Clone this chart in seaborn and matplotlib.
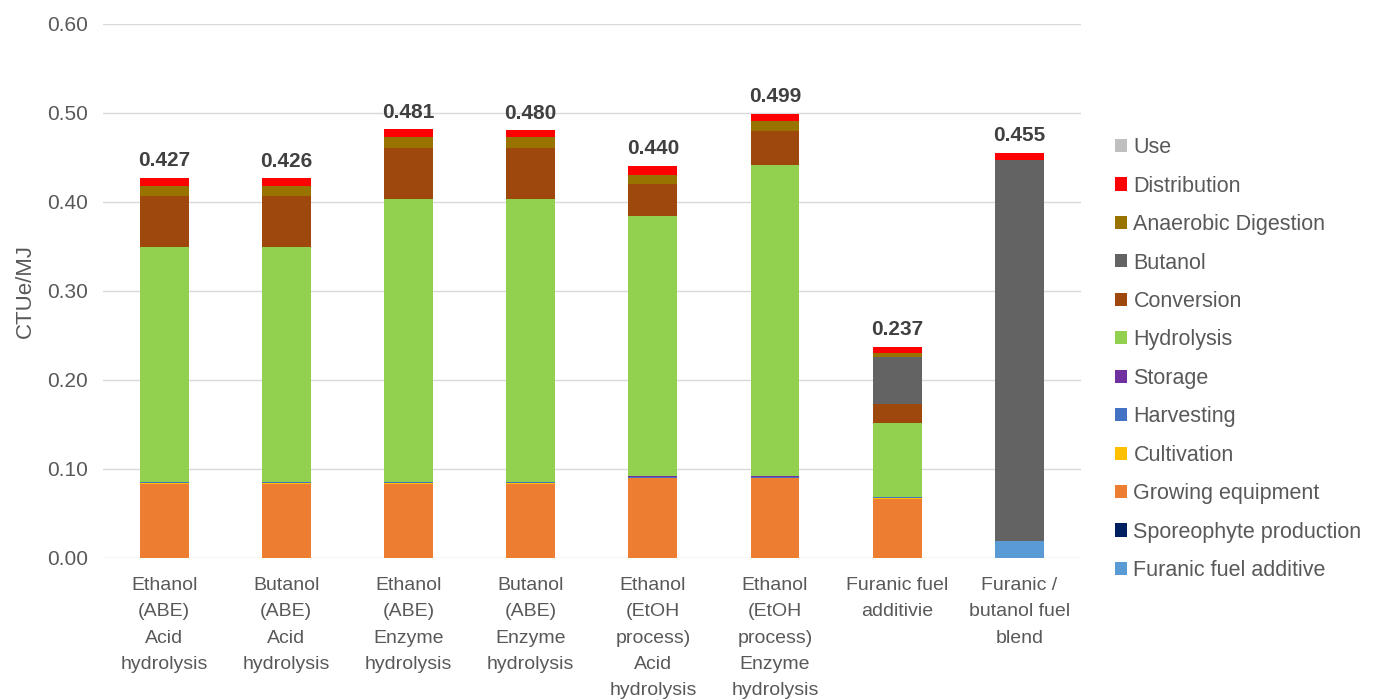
import numpy as np
import pandas as pd
import matplotlib
matplotlib.use("Agg")
import matplotlib.pyplot as plt
from matplotlib.patches import Patch
import seaborn as sns

# categories (x axis)
categories = [
    "Ethanol\n(ABE)\nAcid\nhydrolysis",
    "Butanol\n(ABE)\nAcid\nhydrolysis",
    "Ethanol\n(ABE)\nEnzyme\nhydrolysis",
    "Butanol\n(ABE)\nEnzyme\nhydrolysis",
    "Ethanol\n(EtOH\nprocess)\nAcid\nhydrolysis",
    "Ethanol\n(EtOH\nprocess)\nEnzyme\nhydrolysis",
    "Furanic fuel\nadditivie",
    "Furanic /\nbutanol fuel\nblend",
]

# stage contributions (CTUe/MJ), bottom of the stack first
furanic_fuel_additive = [0, 0, 0, 0, 0, 0, 0, 0.0185]
sporeophyte_production = [0.0003, 0.0003, 0.0003, 0.0003, 0.0003, 0.0003, 0.0002, 0]
growing_equipment = [0.083, 0.083, 0.083, 0.083, 0.089, 0.089, 0.0663, 0]
cultivation = [0.0005, 0.0005, 0.0005, 0.0005, 0.0008, 0.0008, 0.0005, 0]
harvesting = [0.0012, 0.0012, 0.0012, 0.0012, 0.0012, 0.0012, 0.001, 0]
storage = [0.0003, 0.0003, 0.0003, 0.0003, 0.0003, 0.0003, 0.0002, 0]
hydrolysis = [0.264, 0.264, 0.318, 0.318, 0.292, 0.350, 0.083, 0]
conversion = [0.057, 0.057, 0.057, 0.057, 0.036, 0.038, 0.0215, 0]
butanol = [0, 0, 0, 0, 0, 0, 0.053, 0.4285]
anaerobic_digestion = [0.011, 0.011, 0.012, 0.012, 0.011, 0.011, 0.0043, 0]
distribution = [0.010, 0.009, 0.009, 0.008, 0.0094, 0.0084, 0.007, 0.008]
use = [0, 0, 0, 0, 0, 0, 0, 0]

totals = [0.427, 0.426, 0.481, 0.480, 0.440, 0.499, 0.237, 0.455]

stages = [
    ("Furanic fuel additive", furanic_fuel_additive, "#5B9BD5"),
    ("Sporeophyte production", sporeophyte_production, "#002060"),
    ("Growing equipment", growing_equipment, "#ED7D31"),
    ("Cultivation", cultivation, "#FFC000"),
    ("Harvesting", harvesting, "#4472C4"),
    ("Storage", storage, "#7030A0"),
    ("Hydrolysis", hydrolysis, "#92D050"),
    ("Conversion", conversion, "#9E480E"),
    ("Butanol", butanol, "#636363"),
    ("Anaerobic Digestion", anaerobic_digestion, "#997300"),
    ("Distribution", distribution, "#FF0000"),
    ("Use", use, "#BFBFBF"),
]

df = pd.DataFrame({name: vals for name, vals, _ in stages}, index=categories)
cum = df.cumsum(axis=1)

sns.set_style("white")
plt.rcParams["font.family"] = ["Liberation Sans", "DejaVu Sans"]

fig = plt.figure(figsize=(13.73, 7.0), dpi=100)
ax = fig.add_axes([0.075, 0.203, 0.712, 0.763])

# draw cumulative heights from the top layer down so each layer covers the one below
for name, _, color in reversed(stages):
    sns.barplot(x=categories, y=cum[name].values, color=color, width=0.4,
                linewidth=0, saturation=1, ax=ax, zorder=3)

for i, t in enumerate(totals):
    ax.text(i, t + 0.009, f"{t:.3f}", ha="center", va="bottom",
            fontsize=15, fontweight="bold", color="#404040")

ax.set_ylim(0, 0.60)
ax.set_yticks(np.arange(0, 0.61, 0.10))
ax.set_yticklabels([f"{v:.2f}" for v in np.arange(0, 0.61, 0.10)])
ax.set_xlim(-0.5, len(categories) - 0.5)
ax.grid(axis="y", color="#D9D9D9", linewidth=1, zorder=0)
ax.set_axisbelow(True)
for s in ax.spines.values():
    s.set_visible(False)
ax.tick_params(axis="both", length=0, colors="#595959")
ax.tick_params(axis="y", pad=10.8, labelsize=15)
ax.tick_params(axis="x", pad=14, labelsize=14)
for lbl in ax.get_xticklabels():
    lbl.set_linespacing(1.7)
ax.set_ylabel("CTUe/MJ", fontsize=16, color="#595959", labelpad=8)
ax.set_xlabel("")

handles = [Patch(facecolor=c, edgecolor="none", label=n) for n, _, c in reversed(stages)]
fig.legend(handles=handles, loc="upper left", bbox_to_anchor=(0.812, 0.804),
           frameon=False, fontsize=15.5, labelcolor="#595959",
           handlelength=0.56, handleheight=0.56, handletextpad=0.3,
           labelspacing=0.81, borderpad=0, borderaxespad=0)

fig.savefig("out.png", dpi=100)
